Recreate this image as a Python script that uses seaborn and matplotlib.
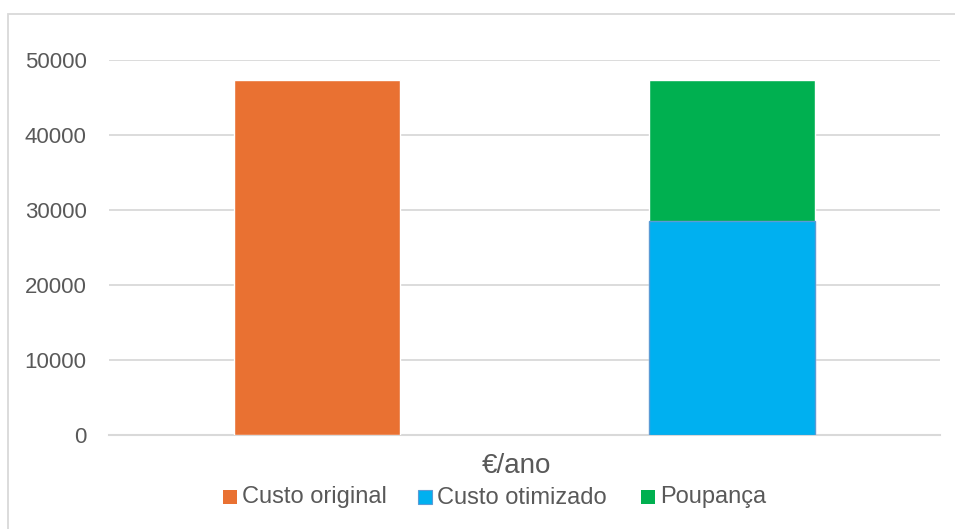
import matplotlib
matplotlib.use("Agg")
import matplotlib.pyplot as plt
from matplotlib.patches import Rectangle
import pandas as pd
import seaborn as sns

# Annual cost comparison (€/ano)
series = ["Custo original", "Custo otimizado", "Poupança"]
colors = ["#E97132", "#00B0F0", "#00B050"]
columns = ["Original", "Otimizado"]
custo_original = 47300
custo_otimizado = 28500
poupanca = 18800
y_ticks = [0, 10000, 20000, 30000, 40000, 50000]

sns.set_theme(style="white")
plt.rcParams["font.family"] = ["Liberation Sans", "DejaVu Sans"]

W, H = 955, 529
fig = plt.figure(figsize=(W / 100, H / 100), dpi=100)
ax = fig.add_axes([0.1141, 0.1783, 0.8702, 0.7092])


def fx(px):
    return px / W


def fy(py):
    return 1 - py / H


# Outer chart frame
fig.patches.append(Rectangle((fx(8), -0.05), 1.2, fy(13.5) + 0.05,
                             transform=fig.transFigure, fill=False,
                             edgecolor="#D9D9D9", linewidth=1.3, zorder=0))

# Full-height columns: original cost, and optimized cost + savings
totals = pd.DataFrame({
    "col": columns,
    "value": [custo_original, custo_otimizado + poupanca],
    "serie": ["Custo original", "Poupança"],
})
sns.barplot(data=totals, x="col", y="value", hue="serie",
            palette={"Custo original": colors[0], "Poupança": colors[2]},
            dodge=False, width=0.4, saturation=1, legend=False, ax=ax,
            zorder=3)

# Optimized cost stacked at the bottom of the second column
lower = pd.DataFrame({"col": columns, "value": [float("nan"), custo_otimizado]})
sns.barplot(data=lower, x="col", y="value", color=colors[1], width=0.4,
            saturation=1, edgecolor="#5B9BD5", linewidth=1.0, ax=ax, zorder=4)

ax.set_xlim(-0.5, 1.5)
ax.set_ylim(0, 50000)
ax.set_yticks(y_ticks)
ax.set_yticklabels([str(v) for v in y_ticks], fontsize=16, color="#595959")
ax.set_xticks([])
ax.tick_params(axis="y", length=0, pad=16)
ax.grid(axis="y", color="#D9D9D9", linewidth=1.3, zorder=0)
ax.set_axisbelow(True)
for side in ["top", "right", "left"]:
    ax.spines[side].set_visible(False)
ax.spines["bottom"].set_color("#D9D9D9")
ax.spines["bottom"].set_linewidth(1.5)
ax.set_xlabel("")
ax.set_ylabel("")

# Category label
fig.text(fx(516), fy(473), "€/ano", fontsize=20, color="#595959",
         ha="center", va="baseline")

# Legend row, entries sharing one text baseline
legend_x = [223, 418, 641]
legend_edges = ["none", "#5B9BD5", "none"]
for x0, name, c, ec in zip(legend_x, series, colors, legend_edges):
    fig.patches.append(Rectangle((fx(x0), fy(504)), fx(14), 14 / H,
                                 transform=fig.transFigure, facecolor=c,
                                 edgecolor=ec, linewidth=0.8))
    fig.text(fx(x0 + 19), fy(503.5), name, fontsize=17, color="#595959",
             ha="left", va="baseline")

fig.savefig("out.png", dpi=100)
